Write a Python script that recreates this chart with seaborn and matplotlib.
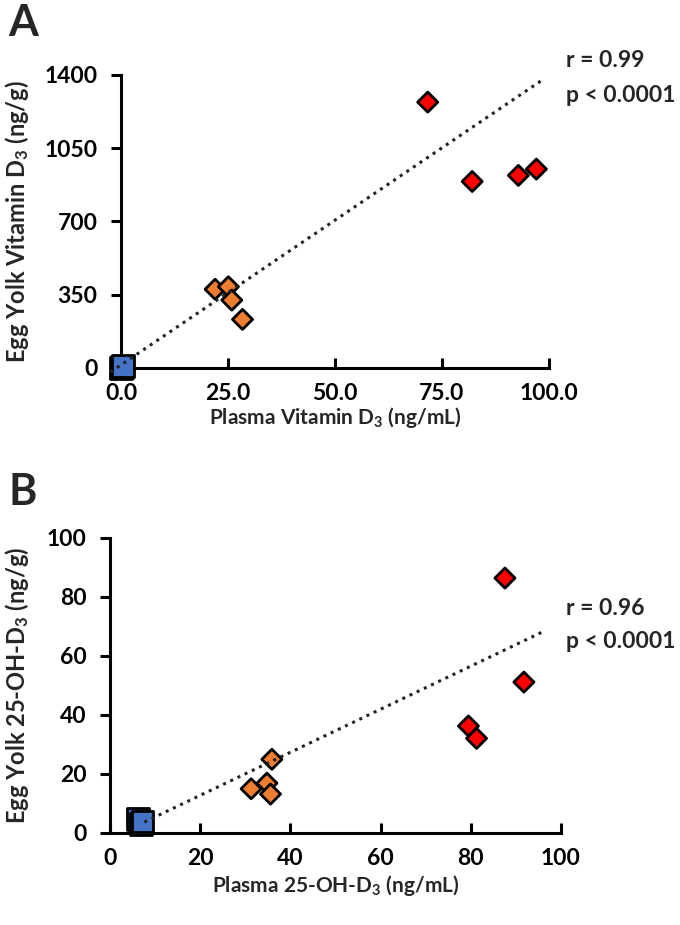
import matplotlib
matplotlib.use("Agg")
import matplotlib.pyplot as plt
import pandas as pd
import seaborn as sns

# ---- panel A : vitamin D3 ----
a_group = ["ctrl", "ctrl", "ctrl", "low", "low", "low", "low", "high", "high", "high", "high"]
a_plasma = [0.0, 0.2, 0.4, 22.0, 25.1, 25.9, 28.4, 71.7, 82.1, 92.9, 97.1]
a_yolk = [2, 6, 10, 376, 388, 324, 232, 1270, 891, 920, 950]
a_trend_x = [-2.5, 99.0]
a_trend_y = [-20, 1383]

# ---- panel B : 25-OH-D3 ----
b_group = ["ctrl", "ctrl", "ctrl", "low", "low", "low", "low", "high", "high", "high", "high"]
b_plasma = [6.2, 6.9, 7.2, 35.9, 31.3, 34.8, 35.6, 87.6, 91.8, 79.5, 81.3]
b_yolk = [4.6, 2.9, 3.8, 24.9, 14.9, 16.8, 13.1, 86.4, 51.1, 36.2, 32.0]
b_trend_x = [7.6, 96.3]
b_trend_y = [3.6, 68.4]

a_xticks = [0, 25, 50, 75, 100]
a_xlabels = ["0.0", "25.0", "50.0", "75.0", "100.0"]
a_yticks = [0, 350, 700, 1050, 1400]
b_ticks = [0, 20, 40, 60, 80, 100]

palette = {"ctrl": "#4472C4", "low": "#ED7D31", "high": "#FF0000"}
markers = {"ctrl": "s", "low": "D", "high": "D"}
sizes = {"ctrl": 250, "low": 105, "high": 105}

sns.set_style("ticks")
plt.rcParams["font.family"] = ["Lato", "DejaVu Sans"]
plt.rcParams["font.weight"] = "bold"
plt.rcParams["mathtext.fontset"] = "custom"
plt.rcParams["mathtext.rm"] = "Lato:bold"
plt.rcParams["mathtext.bf"] = "Lato:bold"
plt.rcParams["mathtext.it"] = "Lato:bold"

TICK_FS = 16.5
YLAB_FS = 17
XLAB_FS = 15

fig = plt.figure(figsize=(6.8, 9.25), dpi=100)
ax_a = fig.add_axes([0.178, 0.6022, 0.629, 0.3168])
ax_b = fig.add_axes([0.1618, 0.0998, 0.663, 0.3186])


def draw_panel(ax, group, x, y, tx, ty):
    df = pd.DataFrame({"x": x, "y": y, "g": group})
    sns.scatterplot(data=df, x="x", y="y", hue="g", style="g", size="g",
                    palette=palette, markers=markers, sizes=sizes,
                    edgecolor="black", linewidth=2, legend=False,
                    clip_on=False, zorder=3, ax=ax)
    tr = pd.DataFrame({"x": tx, "y": ty})
    sns.lineplot(data=tr, x="x", y="y", color="#222222", linestyle=(0, (1, 1.6)),
                 linewidth=2.2, clip_on=False, zorder=4, ax=ax)
    for s in ["top", "right"]:
        ax.spines[s].set_visible(False)
    for s in ["left", "bottom"]:
        ax.spines[s].set_linewidth(2.2)
        ax.spines[s].set_color("black")
    ax.tick_params(axis="x", direction="in", length=7, width=2.2,
                   labelsize=TICK_FS, pad=11, colors="black")
    ax.tick_params(axis="y", direction="out", length=7, width=2.2,
                   labelsize=TICK_FS, pad=10, colors="black")


draw_panel(ax_a, a_group, a_plasma, a_yolk, a_trend_x, a_trend_y)
ax_a.set_xlim(0, 100)
ax_a.set_ylim(0, 1400)
ax_a.set_xticks(a_xticks)
ax_a.set_xticklabels(a_xlabels)
ax_a.set_yticks(a_yticks)
ax_a.set_xlabel(r"Plasma Vitamin D$_{3}$ (ng/mL)", fontsize=XLAB_FS, weight="bold")
ax_a.set_ylabel(r"Egg Yolk Vitamin D$_{3}$ (ng/g)", fontsize=YLAB_FS, weight="bold")
ax_a.xaxis.set_label_coords(0.5, -0.128)
ax_a.yaxis.set_label_coords(-0.21, 0.5)

draw_panel(ax_b, b_group, b_plasma, b_yolk, b_trend_x, b_trend_y)
ax_b.set_xlim(0, 100)
ax_b.set_ylim(0, 100)
ax_b.set_xticks(b_ticks)
ax_b.set_yticks(b_ticks)
ax_b.set_xlabel(r"Plasma 25-OH-D$_{3}$ (ng/mL)", fontsize=XLAB_FS, weight="bold")
ax_b.set_ylabel(r"Egg Yolk 25-OH-D$_{3}$ (ng/g)", fontsize=YLAB_FS, weight="bold")
ax_b.xaxis.set_label_coords(0.5, -0.138)
ax_b.yaxis.set_label_coords(-0.175, 0.5)

# correlation notes
NOTE_FS = 16.5
fig.text(566 / 680, 1 - 67 / 925, "r = 0.99", fontsize=NOTE_FS, weight="bold", va="baseline")
fig.text(566 / 680, 1 - 102 / 925, "p < 0.0001", fontsize=NOTE_FS, weight="bold", va="baseline")
fig.text(566 / 680, 1 - 615 / 925, "r = 0.96", fontsize=NOTE_FS, weight="bold", va="baseline")
fig.text(566 / 680, 1 - 648 / 925, "p < 0.0001", fontsize=NOTE_FS, weight="bold", va="baseline")

# panel letters
fig.text(8 / 680, 1 - 36 / 925, "A", fontsize=31, weight="bold", va="baseline")
fig.text(8 / 680, 1 - 505 / 925, "B", fontsize=31, weight="bold", va="baseline")

fig.savefig("out.png", dpi=100, facecolor="white")
